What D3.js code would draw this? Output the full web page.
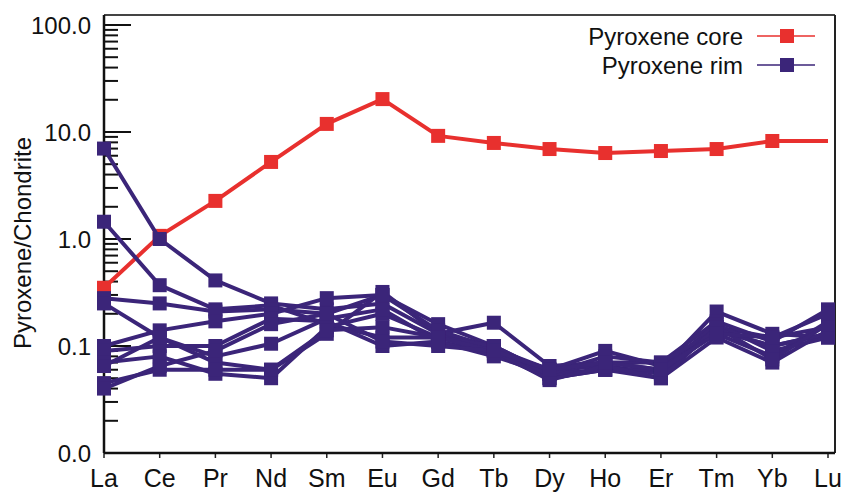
<!DOCTYPE html>
<html><head><meta charset="utf-8">
<script src="https://cdn.jsdelivr.net/npm/d3@7"></script>
<style>body{margin:0;background:#fff}svg{display:block}text{font-family:"Liberation Sans",Arial,sans-serif}</style>
</head><body><svg id="c" width="848" height="495"></svg>
<script>
const elements = ["La","Ce","Pr","Nd","Sm","Eu","Gd","Tb","Dy","Ho","Er","Tm","Yb","Lu"];
const yTickValues = [0.01, 0.1, 1, 10, 100];
const coreValues = [0.35,1.07,2.27,5.25,11.9,20.3,9.2,7.9,6.93,6.36,6.64,6.93,8.24,8.24];
const rimA = [7.0,1.0,0.41,0.25,0.22,0.25,0.13,0.10,0.055,0.07,0.06,0.15,0.12,0.15];
const rimB = [1.45,0.37,0.22,0.24,0.16,0.12,0.12,0.09,0.06,0.065,0.055,0.14,0.10,0.13];
const rimC = [0.28,0.25,0.21,0.22,0.20,0.30,0.16,0.10,0.05,0.06,0.06,0.21,0.13,0.12];
const rimD = [0.25,0.12,0.07,0.06,0.13,0.32,0.13,0.165,0.065,0.07,0.07,0.17,0.11,0.22];
const rimE = [0.10,0.14,0.17,0.20,0.28,0.30,0.14,0.095,0.06,0.09,0.065,0.13,0.08,0.17];
const rimF = [0.09,0.10,0.10,0.18,0.17,0.10,0.11,0.085,0.05,0.06,0.05,0.12,0.07,0.14];
const rimG = [0.07,0.08,0.055,0.05,0.15,0.20,0.12,0.10,0.055,0.06,0.06,0.16,0.09,0.12];
const rimH = [0.065,0.12,0.08,0.105,0.18,0.22,0.11,0.08,0.055,0.08,0.07,0.14,0.10,0.13];
const rimI = [0.045,0.06,0.06,0.06,0.14,0.15,0.12,0.09,0.048,0.065,0.05,0.15,0.075,0.16];
const rimJ = [0.04,0.065,0.09,0.16,0.20,0.11,0.10,0.09,0.06,0.07,0.06,0.13,0.12,0.20];
const rimSeries = [rimA,rimB,rimC,rimD,rimE,rimF,rimG,rimH,rimI,rimJ];
const legendLabels = ["Pyroxene core","Pyroxene rim"];

(function(){
const RED = "#e8302e", BLUE = "#3b2579";
const svg = d3.select("#c");
const x = d3.scalePoint().domain(elements).range([104, 828]);
const y = d3.scaleLog().domain([0.01, 124]).range([453, 15]);
const pl = 104, pr = 835, pt = y.range()[1], pb = y.range()[0];

// frame
svg.append("line").attr("x1",pl).attr("x2",pr).attr("y1",pt).attr("y2",pt).attr("stroke","#444").attr("stroke-width",2);
svg.append("line").attr("x1",pr).attr("x2",pr).attr("y1",pt).attr("y2",pb).attr("stroke","#222").attr("stroke-width",2);

// y minor & major ticks (inside)
const minor = [];
for (let e=-2;e<2;e++) for (let m=2;m<=9;m++) minor.push(m*Math.pow(10,e));
svg.append("g").selectAll("line").data(minor).join("line")
  .attr("x1",pl).attr("x2",pl+14).attr("y1",d=>y(d)).attr("y2",d=>y(d))
  .attr("stroke","#111").attr("stroke-width",2);
svg.append("g").selectAll("line").data(yTickValues.slice(1)).join("line")
  .attr("x1",pl).attr("x2",pl+27).attr("y1",d=>y(d)).attr("y2",d=>y(d))
  .attr("stroke","#111").attr("stroke-width",2);
svg.append("g").selectAll("text").data(yTickValues).join("text")
  .attr("x",91).attr("y",d=>y(d)).attr("dy","0.36em").attr("text-anchor","end")
  .attr("font-size",24).attr("fill","#111").text(d=>d3.format(".1f")(d));

// x ticks (outside, down)
svg.append("g").selectAll("line").data(elements).join("line")
  .attr("x1",d=>x(d)).attr("x2",d=>x(d)).attr("y1",pb).attr("y2",pb+5)
  .attr("stroke","#222").attr("stroke-width",1.5);
svg.append("g").selectAll("text").data(elements).join("text")
  .attr("x",d=>x(d)).attr("y",487).attr("text-anchor","middle")
  .attr("font-size",25).attr("fill","#111").text(d=>d);

// axes lines
svg.append("line").attr("x1",pl).attr("x2",pl).attr("y1",pt).attr("y2",pb).attr("stroke","#111").attr("stroke-width",2.5);
svg.append("line").attr("x1",pl).attr("x2",pr).attr("y1",pb).attr("y2",pb).attr("stroke","#111").attr("stroke-width",2.5);

// y title
svg.append("text").attr("transform","translate(31,243) rotate(-90)").attr("text-anchor","middle")
  .attr("font-size",24).attr("fill","#111").text("Pyroxene/Chondrite");

const line = d3.line().x((d,i)=>x(elements[i])).y(d=>y(d));
const sq = 14;
// core
svg.append("path").datum(coreValues).attr("d",line).attr("fill","none").attr("stroke",RED).attr("stroke-width",4).attr("stroke-linejoin","round");
svg.append("g").selectAll("rect").data(coreValues.slice(0,-1)).join("rect")
  .attr("x",(d,i)=>x(elements[i])-sq/2).attr("y",d=>y(d)-sq/2).attr("width",sq).attr("height",sq).attr("fill",RED);
// rim
rimSeries.forEach(s=>{
  svg.append("path").datum(s).attr("d",line).attr("fill","none").attr("stroke",BLUE).attr("stroke-width",4).attr("stroke-linejoin","round");
});
rimSeries.forEach(s=>{
  svg.append("g").selectAll("rect").data(s).join("rect")
    .attr("x",(d,i)=>x(elements[i])-sq/2).attr("y",d=>y(d)-sq/2).attr("width",sq).attr("height",sq).attr("fill",BLUE);
});

// legend
const lg = svg.append("g");
[RED,BLUE].forEach((c,i)=>{
  const cy = 36 + i*29;
  lg.append("text").attr("x",743).attr("y",cy).attr("dy","0.36em").attr("text-anchor","end")
    .attr("font-size",24).attr("fill","#111").text(legendLabels[i]);
  lg.append("line").attr("x1",757).attr("x2",815).attr("y1",cy).attr("y2",cy).attr("stroke",c).attr("stroke-width",1.5);
  lg.append("rect").attr("x",787-sq/2).attr("y",cy-sq/2).attr("width",sq).attr("height",sq).attr("fill",c);
});
})();
</script></body></html>
